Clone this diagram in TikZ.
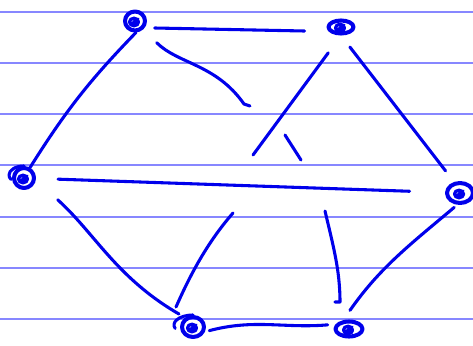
\documentclass[tikz,border=0pt]{standalone}
\usepackage{tikz}
\usetikzlibrary{shapes.geometric}
\definecolor{ink}{RGB}{0,0,235}
\definecolor{ruling}{RGB}{135,135,255}

\begin{document}
\begin{tikzpicture}[x=0.02cm,y=0.02cm,line cap=round,line join=round,
pen/.style={draw=ink,line width=1.75pt},
blob/.style={ellipse,draw=ink,line width=2.3pt,inner sep=0pt,path picture={\draw[ink,line width=1.9pt]([shift={(-1,-1)}]path picture bounding box.center)ellipse[x radius=0.09cm,y radius=0.075cm]([shift={(-3,-3)}]path picture bounding box.center)--([shift={(3,2)}]path picture bounding box.center);}}]
\useasboundingbox(0,0)rectangle(473,-345);
\foreach \y in {12,63,114,165,217,268,319}\draw[ruling,line width=0.8pt](0,-\y)--(473,-\y);
\node[blob,minimum width=0.40cm,minimum height=0.38cm](A)at(135,-21){};
\node[blob,minimum width=0.50cm,minimum height=0.26cm](B)at(341,-27){};
\node[blob,minimum width=0.40cm,minimum height=0.40cm](C)at(24,-178){};
\node[blob,minimum width=0.52cm,minimum height=0.40cm](D)at(460,-193){};
\node[blob,minimum width=0.44cm,minimum height=0.40cm](E)at(193,-327){};
\node[blob,minimum width=0.54cm,minimum height=0.30cm](F)at(349,-329){};
\coordinate(a1)at(244,-104);
\coordinate(b1)at(253,-155);
\coordinate(s1)at(285,-135);
\coordinate(s2)at(301,-160);
\coordinate(m1)at(233,-213);
\coordinate(m2)at(176,-307);
\coordinate(m3)at(325,-211);
\coordinate(m4)at(340,-302);
\draw[pen,shorten <=0.2cm,shorten >=0.48cm](A.-35)--(B.200);
\draw[pen](A.-85)to[bend right=6](C.60);
\draw[pen,shorten <=0.38cm](A.-45)to[out=-45,in=125](a1)--++(6,-2);
\draw[pen,shorten <=0.43cm](B.south)--(b1);
\draw[pen](s1)--(s2);
\draw[pen,shorten <=0.29cm,shorten >=0.28cm](B.south)--(D.118);
\draw[pen,shorten <=0.44cm,shorten >=0.71cm](C)--(D);
\draw[pen,shorten <=0.59cm,shorten >=0.14cm](C.-10)to[out=-42,in=150](E.130);
\draw[pen](m1)..controls(205,-245)and(188,-280)..(m2);
\draw[pen](m3)..controls(333,-245)and(340,-270)..(m4)--++(-5,0);
\draw[pen,shorten <=0.08cm,shorten >=0.24cm](D.-103)to[out=-140,in=55](F.124);
\draw[pen,shorten <=0.09cm,shorten >=0.16cm](E.-22)to[out=15,in=185](F.160);
\draw[pen](C.north)arc[start angle=90,end angle=210,x radius=0.3cm,y radius=0.18cm];
\draw[pen](E.north)arc[start angle=90,end angle=200,x radius=0.38cm,y radius=0.2cm];
\end{tikzpicture}
\end{document}
